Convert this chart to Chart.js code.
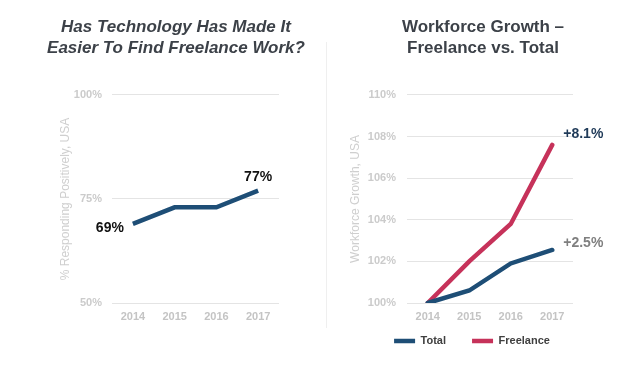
<!DOCTYPE html>
<html><head><meta charset="utf-8">
<script src="https://cdn.jsdelivr.net/npm/chart.js@4"></script>
<style>
html,body{margin:0;padding:0;background:#fff;}
#wrap{position:relative;width:640px;height:376px;overflow:hidden;background:#fff;}
#c1{position:absolute;left:0;top:0;width:320px;height:376px;}
#c2{position:absolute;left:320px;top:0;width:320px;height:376px;}
#sep{position:absolute;left:326px;top:42px;width:1px;height:286px;background:#efefef;}
</style></head><body>
<div id="wrap"><div id="sep"></div>
<canvas id="c1" width="320" height="376"></canvas>
<canvas id="c2" width="320" height="376"></canvas></div>
<script>
// ---- data ----
const years = ['2014', '2015', '2016', '2017'];
const positiveShare = [69, 73, 73, 77];
const positiveLabels = ['69%', '', '', '77%'];
const leftTicks = [50, 75, 100];

const totalGrowth = [100, 100.6, 101.9, 102.55];
const freelanceGrowth = [100, 102.0, 103.8, 107.6];
const totalLabels = ['', '', '', '+2.5%'];
const freelanceLabels = ['', '', '', '+8.1%'];
const rightTicks = [100, 102, 104, 106, 108, 110];

const leftTitle = ['Has Technology Has Made It', 'Easier To Find Freelance Work?'];
const rightTitle = ['Workforce Growth \u2013', 'Freelance vs. Total'];

// ---- styles ----
const NAVY = '#1e4e76';
const RED = '#c6325a';
const FONT = "'Liberation Sans', Arial, sans-serif";
const TICK = '#c4c4c4';
const GRID = '#e4e4e4';

const pointLabels = {
  id: 'pointLabels',
  afterDatasetsDraw(chart, args, opts) {
    const ctx = chart.ctx;
    (opts.items || []).forEach(it => {
      const meta = chart.getDatasetMeta(it.dataset);
      meta.data.forEach((pt, i) => {
        const t = it.texts[i];
        if (!t) return;
        const s = it.styles[i] || {};
        ctx.save();
        ctx.font = 'bold 14px ' + FONT;
        ctx.fillStyle = s.color || '#111';
        ctx.textAlign = s.align || 'center';
        ctx.textBaseline = 'middle';
        ctx.fillText(t, pt.x + (s.dx || 0), pt.y + (s.dy || 0));
        ctx.restore();
      });
    });
  }
};

const placeBoxes = {
  id: 'placeBoxes',
  afterLayout(chart, args, opts) {
    const t = chart.titleBlock;
    if (t && opts.titleCenter != null) {
      const w = opts.titleWidth || (t.right - t.left);
      t.left = opts.titleCenter - w / 2; t.right = t.left + w; t.width = w;
    }
    const l = chart.legend;
    if (l && opts.legendCenter != null) {
      const w = l.right - l.left;
      l.left = opts.legendCenter - w / 2; l.right = l.left + w;
      if (opts.legendTop != null) {
        const h = l.bottom - l.top;
        l.top = opts.legendTop; l.bottom = l.top + h;
      }
    }
  }
};

function titleOpts(text, italic) {
  return {
    display: true, text: text, color: '#3c4148',
    font: { family: FONT, size: 17, weight: 'bold', style: italic ? 'italic' : 'normal', lineHeight: 1.235 },
    padding: { top: 16.5, bottom: 36.5 }
  };
}

function yScale(ticks, title, width, pad) {
  return {
    min: ticks[0], max: ticks[ticks.length - 1],
    afterBuildTicks: s => { s.ticks = ticks.map(v => ({ value: v })); },
    afterFit: s => { s.width = width; },
    border: { display: false },
    grid: { color: GRID, lineWidth: 1, drawTicks: false },
    ticks: { padding: pad, color: '#cbcbcb', font: { family: FONT, size: 11, weight: 'bold' }, callback: v => v + '%' },
    title: { display: true, text: title, color: '#cfcfcf', font: { family: FONT, size: 12 } }
  };
}
function xScale() {
  return {
    offset: true,
    afterFit: s => { s.height = 20; },
    border: { display: false },
    grid: { display: false, drawTicks: false },
    ticks: { padding: 7, color: TICK, font: { family: FONT, size: 11, weight: 'bold' } }
  };
}

new Chart(document.getElementById('c1'), {
  type: 'line',
  data: {
    labels: years,
    datasets: [{ label: 'Positive', data: positiveShare, borderColor: NAVY, backgroundColor: NAVY, borderWidth: 4.5, pointRadius: 0, tension: 0 }]
  },
  options: {
    responsive: false, animation: false,
    layout: { padding: { left: 54, right: 41, top: 0, bottom: 53 } },
    scales: { x: xScale(), y: yScale(leftTicks, '% Responding Positively, USA', 58, 10) },
    plugins: {
      legend: { display: false }, tooltip: { enabled: false },
      title: titleOpts(leftTitle, true),
      placeBoxes: { titleCenter: 176, titleWidth: 300 },
      pointLabels: { items: [{ dataset: 0, texts: positiveLabels,
        styles: [{ dx: -9, dy: 4, align: 'right' }, {}, {}, { dx: 0, dy: -14, align: 'center' }] }] }
    }
  },
  plugins: [pointLabels, placeBoxes]
});

new Chart(document.getElementById('c2'), {
  type: 'line',
  data: {
    labels: years,
    datasets: [
      { label: 'Total', data: totalGrowth, borderColor: NAVY, backgroundColor: NAVY, borderWidth: 4.5, borderCapStyle: 'round', pointRadius: 0, tension: 0, pointStyle: 'line' },
      { label: 'Freelance', data: freelanceGrowth, borderColor: RED, backgroundColor: RED, borderWidth: 4.5, borderCapStyle: 'round', pointRadius: 0, tension: 0, pointStyle: 'line' }
    ]
  },
  options: {
    responsive: false, animation: false,
    layout: { padding: { left: 24, right: 67, top: 0, bottom: 6 } },
    scales: { x: xScale(), y: yScale(rightTicks, 'Workforce Growth, USA', 63, 11) },
    plugins: {
      tooltip: { enabled: false },
      title: titleOpts(rightTitle, false),
      legend: {
        display: true, position: 'bottom',
        labels: { usePointStyle: true, pointStyle: 'line', pointStyleWidth: 21, padding: 26, color: '#404040',
          font: { family: FONT, size: 11, weight: 'bold' } }
      },
      placeBoxes: { titleCenter: 163, titleWidth: 300, legendCenter: 152, legendTop: 309.5 },
      pointLabels: { items: [
        { dataset: 0, texts: totalLabels, styles: [{}, {}, {}, { dx: 11, dy: -7, align: 'left', color: '#7f7f7f' }] },
        { dataset: 1, texts: freelanceLabels, styles: [{}, {}, {}, { dx: 11, dy: -11, align: 'left', color: '#1f3a58' }] }
      ] }
    }
  },
  plugins: [pointLabels, placeBoxes]
});
</script>
</body></html>
